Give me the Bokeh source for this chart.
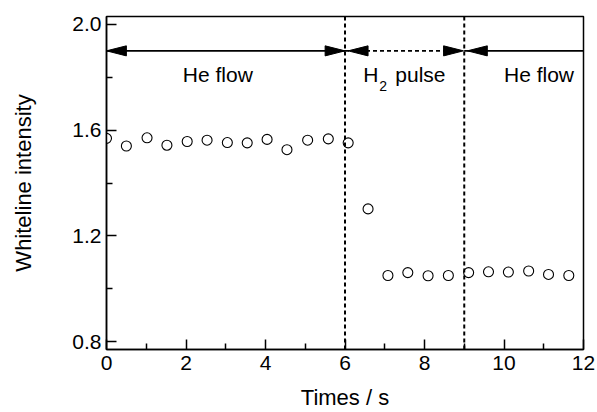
from bokeh.plotting import figure
from bokeh.models import Range1d, FixedTicker, Span, Label
from bokeh.embed import file_html
from bokeh.resources import INLINE

# data
time_s = [0.0, 0.5, 1.02, 1.52, 2.03, 2.53, 3.04, 3.54, 4.04, 4.54, 5.06, 5.58,
          6.08, 6.58, 7.08, 7.58, 8.09, 8.6, 9.11, 9.61, 10.11, 10.62, 11.12, 11.63]
intensity = [1.569, 1.540, 1.571, 1.543, 1.557, 1.562, 1.553, 1.552, 1.565, 1.526, 1.562, 1.567,
             1.552, 1.302, 1.050, 1.061, 1.049, 1.050, 1.061, 1.064, 1.063, 1.067, 1.054, 1.050]
x_ticks = [0, 2, 4, 6, 8, 10, 12]
x_minor = [1, 3, 5, 7, 9, 11]
y_ticks = [0.8, 1.2, 1.6, 2.0]
y_minor = [1.0, 1.4, 1.8]
boundaries = [0, 6, 9, 12]
arrow_level = 1.9
he_label = "He flow"
he_label_x = [2.8, 10.88]
pulse_label_x = 6.46
label_y = 1.81
x_title = "Times / s"
y_title = "Whiteline intensity"

FONT = "Liberation Sans"

p = figure(width=597, height=412, output_backend="svg", toolbar_location=None,
           x_range=Range1d(0, 12), y_range=Range1d(0.77, 2.03),
           min_border_left=106, min_border_right=14, min_border_top=16, min_border_bottom=62)
p.grid.visible = False
p.background_fill_color = "white"
p.border_fill_color = "white"
p.outline_line_color = "black"
p.outline_line_width = 1.5

for ax in (p.xaxis[0], p.yaxis[0]):
    ax.axis_line_width = 1.5
    ax.major_tick_in = 10
    ax.major_tick_out = 0
    ax.minor_tick_in = 6
    ax.minor_tick_out = 0
    ax.major_tick_line_width = 1.5
    ax.minor_tick_line_width = 1.5
    ax.major_label_text_font = FONT
    ax.major_label_text_font_size = "21px"
    ax.major_label_text_color = "black"
    ax.axis_label_text_font = FONT
    ax.axis_label_text_font_size = "22px"
    ax.axis_label_text_font_style = "normal"
    ax.axis_label_text_color = "black"

p.xaxis.ticker = FixedTicker(ticks=x_ticks, minor_ticks=x_minor)
p.yaxis.ticker = FixedTicker(ticks=y_ticks, minor_ticks=y_minor)
p.xaxis.major_label_overrides = {t: str(t) for t in x_ticks}
p.yaxis.major_label_overrides = {t: f"{t:.1f}" for t in y_ticks}
p.xaxis.axis_label = x_title
p.yaxis.axis_label = y_title
p.xaxis.major_label_standoff = 6
p.yaxis.major_label_standoff = 5
p.xaxis.axis_label_standoff = 12
p.yaxis.axis_label_standoff = 33

# vertical dashed separators
for b in boundaries[1:3]:
    p.add_layout(Span(location=b, dimension="height", line_color="black",
                      line_width=2, line_dash="4 3"))

# arrow shafts
p.segment(x0=[boundaries[0], boundaries[2]], y0=[arrow_level] * 2,
          x1=[boundaries[1], boundaries[3]], y1=[arrow_level] * 2,
          line_color="black", line_width=1.8)
p.segment(x0=[boundaries[1]], y0=[arrow_level], x1=[boundaries[2]], y1=[arrow_level],
          line_color="black", line_width=1.8, line_dash="4 3")

# arrow heads (tip, direction)
head_len = 0.5     # x units
head_half = 0.019  # y units
tips = [boundaries[0], boundaries[1], boundaries[1] + 0.08, boundaries[2] - 0.02, boundaries[2] + 0.08]
dirs = [-1, 1, -1, 1, -1]
xs = [[t, t - d * head_len, t - d * head_len] for t, d in zip(tips, dirs)]
ys = [[arrow_level, arrow_level + head_half, arrow_level - head_half] for _ in tips]
p.patches(xs=xs, ys=ys, fill_color="black", line_color="black", line_width=1)

# region labels
for lx in he_label_x:
    p.add_layout(Label(x=lx, y=label_y, text=he_label, text_align="center",
                       text_baseline="middle", text_font=FONT, text_font_size="21px",
                       text_color="black"))
# "H2 pulse" with subscript 2
p.add_layout(Label(x=pulse_label_x, y=label_y, text="H", text_align="left",
                   text_baseline="middle", text_font=FONT, text_font_size="21px",
                   text_color="black"))
p.add_layout(Label(x=pulse_label_x, y=label_y, x_offset=16, y_offset=-11, text="2",
                   text_align="left", text_baseline="middle", text_font=FONT,
                   text_font_size="14px", text_color="black"))
p.add_layout(Label(x=pulse_label_x, y=label_y, x_offset=32, text="pulse", text_align="left",
                   text_baseline="middle", text_font=FONT, text_font_size="21px",
                   text_color="black"))

# data points
p.scatter(time_s, intensity, marker="circle", size=10, fill_color="white",
          line_color="black", line_width=1.1)

open("out.html", "w").write(file_html(p, INLINE))
